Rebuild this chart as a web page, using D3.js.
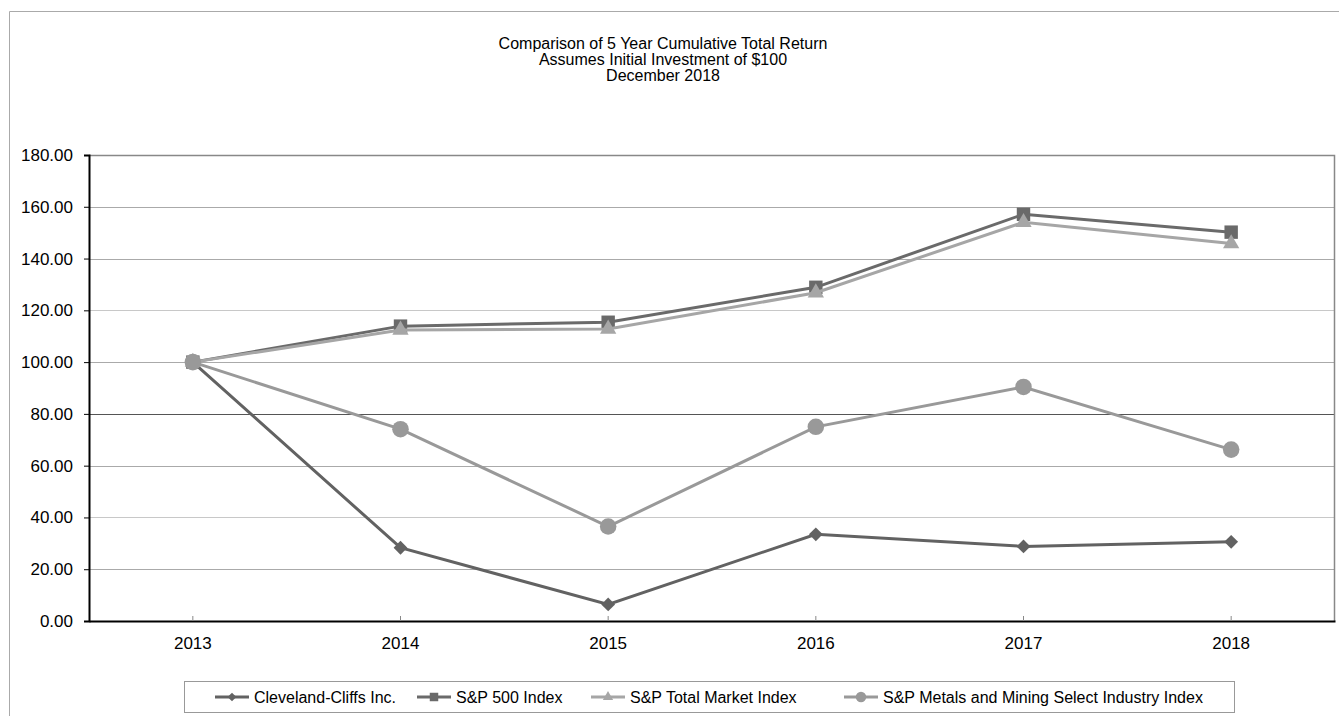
<!DOCTYPE html>
<html>
<head>
<meta charset="utf-8">
<script src="https://cdn.jsdelivr.net/npm/d3@7"></script>
<style>
  body { margin: 0; background: #fff; }
  text { font-family: "Liberation Sans", Arial, sans-serif; fill: #000; }
</style>
</head>
<body>
<svg id="chart" width="1339" height="716"></svg>
<script>
var years = ['2013', '2014', '2015', '2016', '2017', '2018'];
var seriesNames = ['Cleveland-Cliffs Inc.', 'S&P 500 Index', 'S&P Total Market Index', 'S&P Metals and Mining Select Industry Index'];
var cliffs = [100, 28.3, 6.4, 33.5, 28.8, 30.6];
var sp500 = [100, 113.9, 115.4, 128.9, 157.1, 150.2];
var spTotal = [100, 112.4, 112.8, 126.8, 154.0, 145.8];
var metals = [100, 74.1, 36.5, 75.0, 90.4, 66.2];
var yTicks = [0, 20, 40, 60, 80, 100, 120, 140, 160, 180];
var titleLines = ['Comparison of 5 Year Cumulative Total Return', 'Assumes Initial Investment of $100', 'December 2018'];

(function () {
    var svg = d3.select("#chart");
    var margin = { top: 155, right: 4, bottom: 95, left: 89 };
    var width = +svg.attr("width") - margin.left - margin.right;
    var height = +svg.attr("height") - margin.top - margin.bottom;

    // outer chart frame
    svg.append("path")
        .attr("d", "M9.5,716 V11.5 H1339")
        .attr("fill", "none")
        .attr("stroke", "#aaa");

    svg.selectAll(".title")
        .data(titleLines)
        .enter().append("text")
        .attr("class", "title")
        .attr("x", 663)
        .attr("y", function (d, i) { return 49 + i * 16; })
        .attr("text-anchor", "middle")
        .style("font-size", "16px")
        .text(function (d) { return d; });

    var g = svg.append("g")
        .attr("transform", "translate(" + margin.left + "," + margin.top + ")");

    var x = d3.scaleBand().domain(years).range([0, width]);
    var y = d3.scaleLinear().domain([0, 180]).range([height, 0]);
    var cx = function (d, i) { return x(years[i]) + x.bandwidth() / 2; };

    // gridlines
    g.selectAll(".grid")
        .data(yTicks.filter(function (t) { return t > 0; }))
        .enter().append("line")
        .attr("x1", 0).attr("x2", width)
        .attr("y1", function (d) { return Math.round(y(d)) + 0.5; })
        .attr("y2", function (d) { return Math.round(y(d)) + 0.5; })
        .attr("stroke", function (d) { return d === 80 ? "#555" : (d === 40 || d === 120) ? "#c8c8c8" : "#aaa"; });

    // top/right frame of plot
    g.append("path")
        .attr("d", "M0," + (Math.round(y(180)) + 0.5) + " H" + (width - 0.5) + " V" + height)
        .attr("fill", "none")
        .attr("stroke", "#888")
        .attr("stroke-width", 1.5);

    var yAxis = g.append("g")
        .call(d3.axisLeft(y).tickValues(yTicks).tickSize(5).tickPadding(11)
            .tickFormat(function (d) { return d3.format(".2f")(d); }));
    yAxis.select(".domain").attr("stroke", "#000").attr("stroke-width", 2);
    yAxis.selectAll("text").style("font-size", "17px").attr("fill", "#000");

    var xAxis = g.append("g")
        .attr("transform", "translate(0," + height + ")")
        .call(d3.axisBottom(x).tickSizeInner(-5).tickSizeOuter(0).tickPadding(16));
    xAxis.select(".domain").attr("stroke", "#000").attr("stroke-width", 2);
    xAxis.selectAll(".tick line").attr("stroke", "#888");
    xAxis.selectAll("text").style("font-size", "17px").attr("fill", "#000");

    var series = [
        { name: seriesNames[0], values: cliffs, color: "#626262", marker: d3.symbolSquare, size: 95, rotate: 45 },
        { name: seriesNames[1], values: sp500, color: "#6a6a6a", marker: d3.symbolSquare, size: 180, rotate: 0 },
        { name: seriesNames[2], values: spTotal, color: "#a6a6a6", marker: d3.symbolTriangle, size: 115, rotate: 0 },
        { name: seriesNames[3], values: metals, color: "#999999", marker: d3.symbolCircle, size: 215, rotate: 0 }
    ];

    var line = d3.line()
        .x(function (d, i) { return cx(d, i); })
        .y(function (d) { return y(d); });

    series.forEach(function (s) {
        g.append("path")
            .datum(s.values)
            .attr("d", line)
            .attr("fill", "none")
            .attr("stroke", s.color)
            .attr("stroke-width", 3);
        g.selectAll(null)
            .data(s.values)
            .enter().append("path")
            .attr("transform", function (d, i) {
                return "translate(" + cx(d, i) + "," + y(d) + ") rotate(" + s.rotate + ")";
            })
            .attr("d", d3.symbol().type(s.marker).size(s.size))
            .attr("fill", s.color);
    });

    // legend
    var legend = svg.append("g");
    legend.append("rect")
        .attr("x", 184.5).attr("y", 681.5)
        .attr("width", 1050).attr("height", 31)
        .attr("fill", "#fff").attr("stroke", "#999");
    var legendX = [215, 417, 591, 844];
    series.forEach(function (s, i) {
        var lg = legend.append("g").attr("transform", "translate(" + legendX[i] + ",697)");
        lg.append("line").attr("x1", 0).attr("x2", 34)
            .attr("stroke", s.color).attr("stroke-width", 3);
        lg.append("path").attr("transform", "translate(17,0) rotate(" + s.rotate + ")")
            .attr("d", d3.symbol().type(s.marker).size(s.size * 0.4))
            .attr("fill", s.color);
        lg.append("text").attr("x", 39).attr("y", 6)
            .style("font-size", "16px")
            .text(s.name);
    });
})();
</script>
</body>
</html>
